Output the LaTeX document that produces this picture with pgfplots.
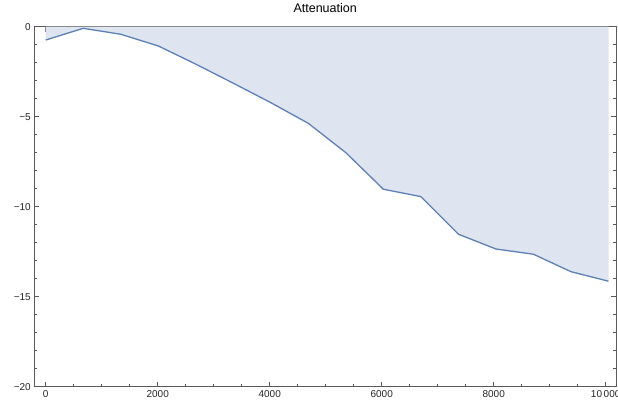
\documentclass[border=0pt]{standalone}
\usepackage{fontspec}
\setmainfont{Liberation Sans}
\usepackage{pgfplots}
\pgfplotsset{compat=1.18}
\definecolor{mline}{RGB}{94,129,181}
\definecolor{mfill}{RGB}{222,228,240}
\definecolor{mframe}{RGB}{90,90,90}
\begin{document}
\begin{tikzpicture}
\useasboundingbox (0,0) rectangle (618bp,405bp);
\begin{axis}[
  at={(34.3bp,18.3bp)}, anchor=south west,
  scale only axis, width=581.7bp, height=360bp,
  xmin=-204, xmax=10184, ymin=-20, ymax=0,
  xtick={0,2000,4000,6000,8000,10000},
  xticklabels={0,2000,4000,6000,8000,10\,000},
  minor xtick={500,1000,1500,2500,3000,3500,4500,5000,5500,6500,7000,7500,8500,9000,9500},
  ytick={0,-5,-10,-15,-20},
  yticklabels={0,−5,−10,−15,−20},
  minor ytick={-1,-2,-3,-4,-6,-7,-8,-9,-11,-12,-13,-14,-16,-17,-18,-19},
  tick pos=both, tick align=inside,
  major tick length=5bp, minor tick length=3bp,
  axis line style={mframe, line width=0.8bp},
  every tick/.style={mframe, line width=0.7bp},
  xticklabel pos=lower, yticklabel pos=left,
  tick label style={font=\fontsize{10bp}{12bp}\selectfont, text=black!85},
  title={Attenuation},
  title style={at={(0.5,1)}, anchor=base, yshift=8.4bp, font=\fontsize{12.5bp}{14bp}\selectfont},
  clip=true,
]
\addplot[draw=none, fill=mfill] coordinates {
(0,-0.74) (670,-0.09) (1340,-0.42) (2010,-1.07) (2680,-2.08) (3350,-3.14)
(4020,-4.22) (4690,-5.37) (5360,-7.0) (6030,-9.03) (6700,-9.44) (7370,-11.53)
(8040,-12.35) (8710,-12.64) (9380,-13.61) (10050,-14.14)
} \closedcycle;
\addplot[mline, line width=1.3bp] coordinates {
(0,-0.74) (670,-0.09) (1340,-0.42) (2010,-1.07) (2680,-2.08) (3350,-3.14)
(4020,-4.22) (4690,-5.37) (5360,-7.0) (6030,-9.03) (6700,-9.44) (7370,-11.53)
(8040,-12.35) (8710,-12.64) (9380,-13.61) (10050,-14.14)
};
\end{axis}
\end{tikzpicture}
\end{document}
